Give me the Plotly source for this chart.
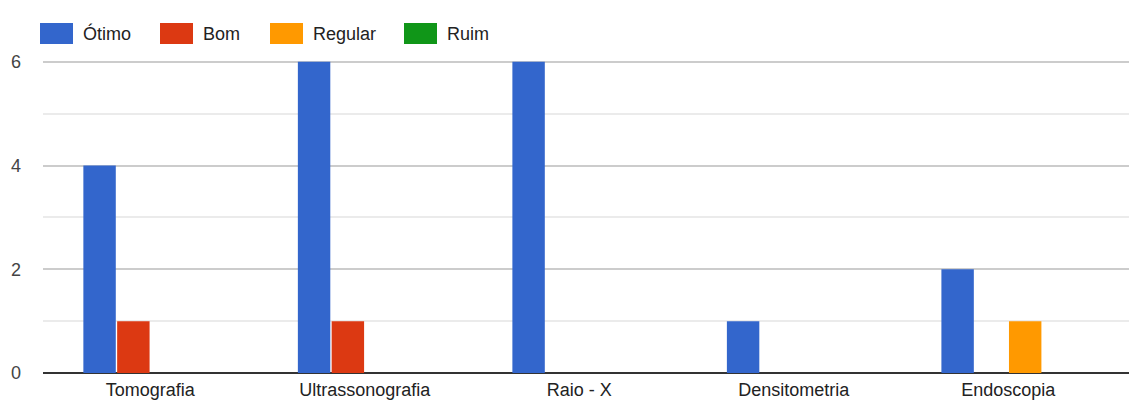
import plotly.graph_objects as go

categories = ["Tomografia", "Ultrassonografia", "Raio - X", "Densitometria", "Endoscopia"]
series_names = ["Ótimo", "Bom", "Regular", "Ruim"]
otimo = [4, 6, 6, 1, 2]
bom = [1, 1, 0, 0, 0]
regular = [0, 0, 0, 0, 1]
ruim = [0, 0, 0, 0, 0]
colors = ["#3366cc", "#dc3912", "#ff9900", "#109618"]
y_ticks = [0, 2, 4, 6]

FONT = "Liberation Sans, Arial, sans-serif"
FS = 18
# page body has an 8px default margin; compensate so the plot lands where the reference has it
OFF = 8
W, H = 1137 - OFF, 405 - OFF
ML, MR, MT, MB = 43 - OFF, 0, 10 - OFF, 32

fig = go.Figure()
for name, vals, col in zip(series_names, [otimo, bom, regular, ruim], colors):
    fig.add_trace(go.Bar(x=categories, y=vals, name=name, marker=dict(color=col, line=dict(width=0)),
                         showlegend=False))

# manual legend (Google-Charts style); positions in page pixels
legend_x = [40, 160, 270, 404]
pw = W - ML - MR
ph = H - MT - MB
def px2x(px):
    return (px - OFF - ML) / pw
def py2y(py):
    return (H - MB - (py - OFF)) / ph
shapes = []
annotations = []
for lx, name, col in zip(legend_x, series_names, colors):
    shapes.append(dict(type="rect", xref="paper", yref="paper",
                       x0=px2x(lx), x1=px2x(lx + 33), y0=py2y(44), y1=py2y(23),
                       fillcolor=col, line=dict(width=0), layer="above"))
    annotations.append(dict(xref="paper", yref="paper", x=px2x(lx + 41), y=py2y(33.5),
                            text=name, showarrow=False, xanchor="left", yanchor="middle",
                            font=dict(family=FONT, size=FS, color="#222222")))

fig.update_layout(
    width=W, height=H,
    margin=dict(l=ML, r=MR, t=MT, b=MB, pad=0),
    paper_bgcolor="white", plot_bgcolor="white",
    barmode="group", bargap=0.37, bargroupgap=0.04,
    font=dict(family=FONT, size=FS, color="#222222"),
    shapes=shapes, annotations=annotations,
    xaxis=dict(range=[-0.5, 4.6], showgrid=False, zeroline=False, showline=False,
               ticks="", automargin=False, ticklabelstandoff=4,
               tickfont=dict(family=FONT, size=FS, color="#222222")),
    yaxis=dict(range=[0, 7], tickvals=y_ticks, showgrid=True, gridcolor="#cccccc", gridwidth=1.5,
               zeroline=True, zerolinecolor="#333333", zerolinewidth=2, automargin=False,
               minor=dict(dtick=1, showgrid=True, gridcolor="#ebebeb", gridwidth=1.5),
               ticklabelstandoff=21,
               tickfont=dict(family=FONT, size=FS, color="#444444")),
)
fig.write_html("out.html")
